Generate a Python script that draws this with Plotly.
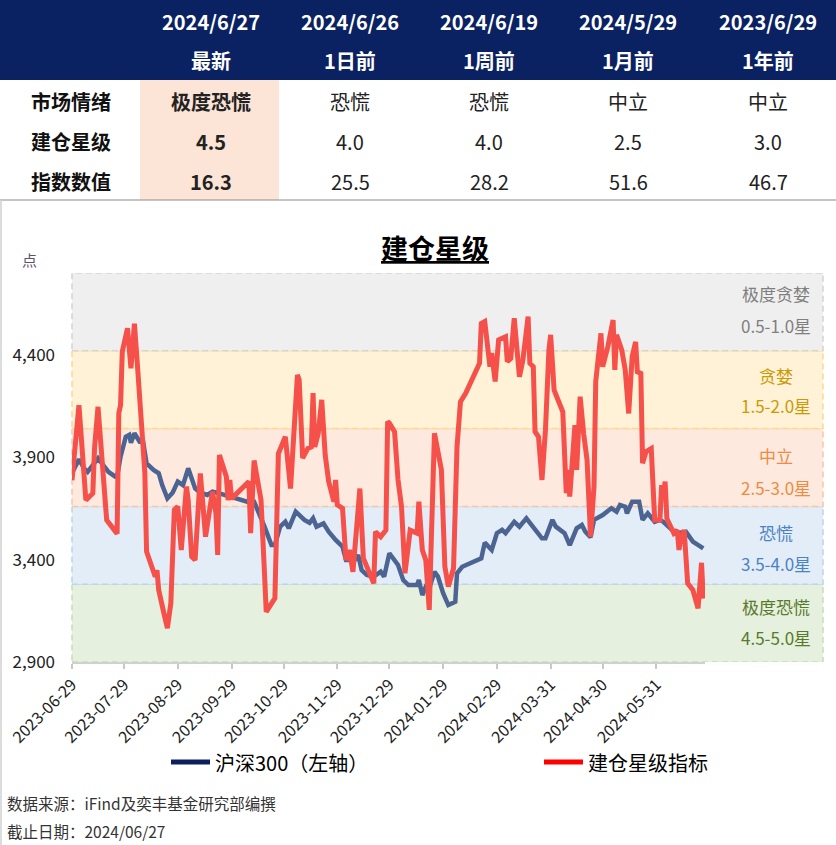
import plotly.graph_objects as go

# ---------------- data ----------------
table_dates = ["2024/6/27", "2024/6/26", "2024/6/19", "2024/5/29", "2023/6/29"]
table_periods = ["最新", "1日前", "1周前", "1月前", "1年前"]
row_labels = ["市场情绪", "建仓星级", "指数数值"]
row_sentiment = ["极度恐慌", "恐慌", "恐慌", "中立", "中立"]
row_stars = [4.5, 4.0, 4.0, 2.5, 3.0]
row_index = [16.3, 25.5, 28.2, 51.6, 46.7]

band_names = ["极度恐慌", "恐慌", "中立", "贪婪", "极度贪婪"]
band_stars = ["4.5-5.0星", "3.5-4.0星", "2.5-3.0星", "1.5-2.0星", "0.5-1.0星"]
band_low = [0, 20, 40, 60, 80]
band_high = [20, 40, 60, 80, 100]

tick_dates = ["2023-06-29", "2023-07-29", "2023-08-29", "2023-09-29", "2023-10-29",
              "2023-11-29", "2023-12-29", "2024-01-29", "2024-02-29", "2024-03-31",
              "2024-04-30", "2024-05-31"]

hs300_dates = [
    "2023-06-29", "2023-07-03", "2023-07-06", "2023-07-08", "2023-07-11", "2023-07-14", "2023-07-17",
    "2023-07-20", "2023-07-24", "2023-07-25", "2023-07-27", "2023-07-30", "2023-08-01", "2023-08-02",
    "2023-08-04", "2023-08-07", "2023-08-09", "2023-08-11", "2023-08-15", "2023-08-18", "2023-08-20",
    "2023-08-23", "2023-08-26", "2023-08-29", "2023-09-01", "2023-09-04", "2023-09-08", "2023-09-11",
    "2023-09-15", "2023-09-18", "2023-09-22", "2023-09-28", "2023-10-08", "2023-10-12", "2023-10-15",
    "2023-10-18", "2023-10-22", "2023-10-24", "2023-10-27", "2023-10-30", "2023-11-01", "2023-11-05",
    "2023-11-10", "2023-11-13", "2023-11-15", "2023-11-17", "2023-11-21", "2023-11-24", "2023-11-28",
    "2023-12-02", "2023-12-04", "2023-12-09", "2023-12-11", "2023-12-13", "2023-12-16", "2023-12-20",
    "2023-12-24", "2023-12-26", "2023-12-29", "2024-01-03", "2024-01-06", "2024-01-09", "2024-01-14",
    "2024-01-15", "2024-01-17", "2024-01-19", "2024-01-21", "2024-01-24", "2024-01-26", "2024-01-29",
    "2024-02-01", "2024-02-05", "2024-02-06", "2024-02-09", "2024-02-20", "2024-02-22", "2024-02-26",
    "2024-02-29", "2024-03-03", "2024-03-05", "2024-03-10", "2024-03-13", "2024-03-17", "2024-03-20",
    "2024-03-26", "2024-03-28", "2024-04-01", "2024-04-03", "2024-04-08", "2024-04-11", "2024-04-15",
    "2024-04-18", "2024-04-20", "2024-04-23", "2024-04-25", "2024-04-30", "2024-05-05", "2024-05-08",
    "2024-05-10", "2024-05-13", "2024-05-14", "2024-05-17", "2024-05-21", "2024-05-23", "2024-05-26",
    "2024-05-30", "2024-06-02", "2024-06-04", "2024-06-09", "2024-06-12", "2024-06-17", "2024-06-21",
    "2024-06-27"]
hs300_vals = [
    3822, 3890, 3846, 3829, 3862, 3895, 3862,
    3829, 3805, 3805, 3903, 4000, 4009, 3971,
    4017, 3976, 3976, 3870, 3838, 3822, 3764,
    3699, 3727, 3781, 3764, 3846, 3748, 3727,
    3716, 3732, 3724, 3707, 3683, 3683, 3626,
    3561, 3471, 3471, 3561, 3585, 3553, 3634,
    3594, 3580, 3602, 3561, 3577, 3536, 3496,
    3463, 3398, 3398, 3423, 3349, 3325, 3317,
    3341, 3317, 3431, 3374, 3300, 3276, 3276,
    3300, 3227, 3268, 3260, 3341, 3317, 3236,
    3178, 3194, 3333, 3365, 3406, 3483, 3447,
    3529, 3545, 3529, 3585, 3561, 3602, 3569,
    3504, 3504, 3594, 3561, 3529, 3471, 3553,
    3569, 3536, 3509, 3594, 3618, 3651, 3634,
    3667, 3658, 3626, 3683, 3683, 3594, 3626,
    3585, 3594, 3585, 3545, 3529, 3536, 3488,
    3455]

star_dates = [
    "2023-06-29", "2023-07-03", "2023-07-07", "2023-07-11", "2023-07-12", "2023-07-14", "2023-07-19",
    "2023-07-25", "2023-07-26", "2023-07-27", "2023-07-28", "2023-07-31", "2023-08-02", "2023-08-04",
    "2023-08-06", "2023-08-10", "2023-08-11", "2023-08-16", "2023-08-17", "2023-08-18", "2023-08-21",
    "2023-08-23", "2023-08-25", "2023-08-27", "2023-08-29", "2023-08-31", "2023-09-03", "2023-09-04",
    "2023-09-06", "2023-09-08", "2023-09-11", "2023-09-14", "2023-09-18", "2023-09-20", "2023-09-21",
    "2023-09-22", "2023-09-26", "2023-09-27", "2023-09-28", "2023-09-29", "2023-10-09", "2023-10-10",
    "2023-10-12", "2023-10-16", "2023-10-18", "2023-10-19", "2023-10-24", "2023-10-26", "2023-10-30",
    "2023-11-02", "2023-11-06", "2023-11-07", "2023-11-09", "2023-11-12", "2023-11-14", "2023-11-15",
    "2023-11-16", "2023-11-18", "2023-11-20", "2023-11-22", "2023-11-24", "2023-11-27", "2023-11-28",
    "2023-11-29", "2023-12-02", "2023-12-04", "2023-12-06", "2023-12-08", "2023-12-12", "2023-12-14",
    "2023-12-20", "2023-12-21", "2023-12-24", "2023-12-27", "2023-12-28", "2023-12-29", "2024-01-01",
    "2024-01-03", "2024-01-05", "2024-01-07", "2024-01-10", "2024-01-14", "2024-01-15", "2024-01-17",
    "2024-01-19", "2024-01-21", "2024-01-24", "2024-01-28", "2024-01-30", "2024-02-01", "2024-02-04",
    "2024-02-06", "2024-02-08", "2024-02-11", "2024-02-19", "2024-02-20", "2024-02-22", "2024-02-25",
    "2024-02-26", "2024-02-28", "2024-03-01", "2024-03-05", "2024-03-06", "2024-03-08", "2024-03-10",
    "2024-03-13", "2024-03-15", "2024-03-18", "2024-03-19", "2024-03-21", "2024-03-22", "2024-03-24",
    "2024-03-26", "2024-03-28", "2024-03-30", "2024-03-31", "2024-04-02", "2024-04-07", "2024-04-09",
    "2024-04-10", "2024-04-11", "2024-04-14", "2024-04-15", "2024-04-17", "2024-04-19", "2024-04-21",
    "2024-04-23", "2024-04-24", "2024-04-25", "2024-04-26", "2024-04-28", "2024-04-29", "2024-04-30",
    "2024-05-03", "2024-05-06", "2024-05-07", "2024-05-08", "2024-05-11", "2024-05-13", "2024-05-15",
    "2024-05-17", "2024-05-19", "2024-05-20", "2024-05-22", "2024-05-23", "2024-05-25", "2024-05-28",
    "2024-05-30", "2024-06-02", "2024-06-03", "2024-06-04", "2024-06-05", "2024-06-06", "2024-06-10",
    "2024-06-12", "2024-06-13", "2024-06-14", "2024-06-16", "2024-06-18", "2024-06-21", "2024-06-24",
    "2024-06-26", "2024-06-27"]
star_vals = [
    46.7, 66.0, 41.6, 43.4, 55.0, 65.6, 36.5,
    33.0, 64.0, 66.0, 79.8, 85.8, 75.5, 87.0,
    74.6, 48.6, 28.4, 21.9, 23.6, 18.5, 12.5,
    8.7, 15.1, 39.1, 40.0, 28.8, 45.1, 41.6,
    27.1, 26.2, 48.5, 32.2, 43.8, 38.2, 27.5,
    53.2, 47.6, 41.6, 46.8, 42.0, 46.4, 33.1,
    51.8, 41.6, 22.8, 12.9, 16.4, 53.6, 57.9,
    44.6, 73.8, 72.5, 52.4, 54.9, 55.3, 69.1,
    55.3, 58.8, 67.4, 53.2, 46.4, 41.2, 46.8,
    40.4, 39.5, 26.2, 28.8, 23.2, 44.6, 26.7,
    20.2, 33.5, 32.2, 33.9, 61.8, 61.4, 59.2,
    46.8, 39.9, 22.8, 33.9, 33.1, 41.2, 28.8,
    26.2, 13.4, 58.8, 49.4, 24.5, 19.4, 24.1,
    55.3, 66.9, 69.1, 76.8, 87.0, 87.5, 75.9,
    79.4, 72.1, 82.8, 83.6, 77.2, 78.0, 88.4,
    73.3, 77.6, 88.8, 76.8, 75.9, 59.2, 57.9,
    46.8, 59.6, 80.2, 84.1, 69.9, 64.3, 43.4,
    49.4, 42.5, 60.9, 49.4, 68.2, 58.8, 51.9,
    32.2, 40.8, 45.1, 72.1, 78.9, 84.5, 75.9,
    81.1, 87.9, 75.1, 84.1, 80.2, 75.1, 63.9,
    78.5, 82.3, 74.6, 74.2, 51.1, 54.1, 54.9,
    36.5, 36.5, 45.5, 42.5, 46.4, 36.9, 33.1,
    33.9, 28.8, 31.8, 33.9, 20.2, 18.5, 13.8,
    25.5, 16.3]

# ---------------- styling ----------------
W, H = 836, 845
PL, PR, PT, PB = 72, 705, 273, 662
FONT = "Noto Sans CJK SC"


def px(x):
    return (x - PL) / (PR - PL)


def py(y):
    return (PB - y) / (PB - PT)


def label(x, y, text, size, color, anchor="center"):
    return dict(xref="paper", yref="paper", x=px(x), y=py(y), text=text,
                showarrow=False, xanchor=anchor, yanchor="middle",
                font=dict(family=FONT, size=size, color=color))


band_fill = ["#e6f0de", "#e3edf7", "#fde9de", "#fff2d6", "#efefef"]
band_line = ["#c6ddb6", "#bcd4ec", "#f7c5a8", "#ffd98c", "#d4d4d4"]
band_text = ["#587a2a", "#4a82c4", "#f08a40", "#c99a06", "#7f7f7f"]
band_name_y = [606, 532, 455, 375, 293]
band_star_y = [637, 563, 487, 405, 325]

fig = go.Figure()
fig.add_trace(go.Scatter(x=hs300_dates, y=hs300_vals, mode="lines", yaxis="y",
                         line=dict(color="#4c6492", width=4.5), showlegend=False,
                         hoverinfo="skip"))
fig.add_trace(go.Scatter(x=star_dates, y=star_vals, mode="lines", yaxis="y2",
                         line=dict(color="#f5504a", width=5), showlegend=False,
                         hoverinfo="skip"))

shapes = []
ann = []

# bands
for i in range(len(band_names)):
    shapes.append(dict(type="rect", xref="paper", yref="y2", x0=0, x1=px(823),
                       y0=band_low[i], y1=band_high[i], fillcolor=band_fill[i],
                       line=dict(color=band_line[i], width=1.5, dash="6px,4px"),
                       layer="below"))
    ann.append(label(776, band_name_y[i], band_names[i], 17, band_text[i]))
    ann.append(label(776, band_star_y[i], band_stars[i], 17, band_text[i]))

# table
shapes.append(dict(type="rect", xref="paper", yref="paper", x0=px(0), x1=px(836),
                   y0=py(80), y1=py(0), fillcolor="#0b2262", line=dict(width=0)))
shapes.append(dict(type="rect", xref="paper", yref="paper", x0=px(140), x1=px(279),
                   y0=py(200), y1=py(80), fillcolor="#fce4d6", line=dict(width=0)))
shapes.append(dict(type="line", xref="paper", yref="paper", x0=px(0), x1=px(836),
                   y0=py(200), y1=py(200), line=dict(color="#8c8c8c", width=1.2)))
shapes.append(dict(type="line", xref="paper", yref="paper", x0=px(1), x1=px(1),
                   y0=py(200), y1=py(845), line=dict(color="#d0d0d0", width=1.5)))

col_x = [71, 211, 350, 489, 628, 768]
for j in range(5):
    ann.append(label(col_x[j + 1], 22, "<b>%s</b>" % table_dates[j], 20, "white"))
    ann.append(label(col_x[j + 1], 60, "<b>%s</b>" % table_periods[j], 20, "white"))
rows = [row_sentiment, ["%.1f" % v for v in row_stars], ["%.1f" % v for v in row_index]]
row_y = [101, 141, 181]
for r in range(3):
    ann.append(label(col_x[0], row_y[r], "<b>%s</b>" % row_labels[r], 20, "#111111"))
    for j in range(5):
        t = rows[r][j]
        if j == 0:
            t = "<b>%s</b>" % t
        ann.append(label(col_x[j + 1], row_y[r], t, 20, "#222222"))

# title and unit
ann.append(label(435, 248, "<b><u>建仓星级</u></b>", 27, "#000000"))
ann.append(label(29, 259, "点", 15, "#5f5270"))

# legend
shapes.append(dict(type="line", xref="paper", yref="paper", x0=px(171), x1=px(210),
                   y0=py(762), y1=py(762), line=dict(color="#0a1f5c", width=5)))
ann.append(label(213, 762, "沪深300（左轴）", 20, "#000000", "left"))
shapes.append(dict(type="line", xref="paper", yref="paper", x0=px(544), x1=px(583),
                   y0=py(762), y1=py(762), line=dict(color="#ff0000", width=5)))
ann.append(label(586, 762, "建仓星级指标", 20, "#000000", "left"))

# footer
ann.append(label(5, 803, "数据来源：iFind及奕丰基金研究部编撰", 15.5, "#333333", "left"))
ann.append(label(5, 831, "截止日期：2024/06/27", 15.5, "#333333", "left"))

fig.update_layout(
    template="none",
    width=W, height=H,
    margin=dict(l=PL, r=W - PR, t=PT, b=H - PB, pad=0),
    paper_bgcolor="white", plot_bgcolor="rgba(0,0,0,0)",
    font=dict(family=FONT),
    showlegend=False,
    shapes=shapes,
    annotations=ann,
    xaxis=dict(type="date", range=["2023-06-29", "2024-06-28"],
               tickvals=tick_dates, ticktext=tick_dates, tickangle=-45,
               ticks="outside", ticklen=5, tickwidth=1.5, tickcolor="#c8c8c8",
               showline=True, linecolor="#d0d0d0", linewidth=2,
               showgrid=False, zeroline=False, automargin=False,
               tickfont=dict(family=FONT, size=16, color="#222222")),
    yaxis=dict(range=[2900, 4800], tickvals=[2900, 3400, 3900, 4400],
               tickformat=",", showgrid=False, zeroline=False, showline=False,
               ticks="", ticklabelstandoff=16, automargin=False,
               tickfont=dict(family=FONT, size=17, color="#222222")),
    yaxis2=dict(range=[0, 100], overlaying="y", side="right", visible=False,
                showgrid=False, zeroline=False),
)

fig.write_html("out.html")
